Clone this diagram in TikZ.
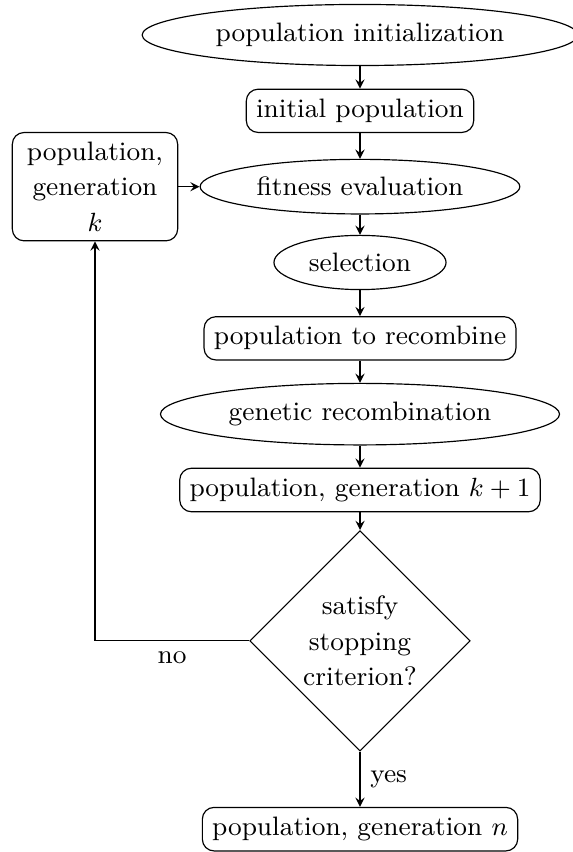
\documentclass[tikz,border=0pt]{standalone}
\usepackage{tikz}
\usetikzlibrary{shapes.geometric, arrows}
\tikzstyle{operation} = [ellipse, draw=black, text centered]
\tikzstyle{pop} = [rectangle, rounded corners, draw=black, text centered]
\tikzstyle{popmulti} = [rectangle, rounded corners, draw=black, text width=1.75cm,
align=center]
\tikzstyle{decision} = [diamond, draw=black, inner sep=1.5pt, align=center]
\tikzstyle{arrow} = [->,>=stealth]

\begin{document}
\begin{tikzpicture}[node distance=0.91cm, font=\fontsize{9.1}{12}\selectfont]

\useasboundingbox (-4.32,0.42) rectangle (2.544,-9.804);

\node(init)[operation]{population initialization};
\node(initpop)[pop, below of=init]{initial population};
\node(fit)[operation, below of=initpop]{fitness evaluation};
\node(popk)[popmulti, left of=fit, xshift=-2.27cm]{population,\\generation\\$k$};
\node(sel)[operation, below of=fit]{selection};
\node(recpop)[pop, below of=sel]{population to recombine};
\node(recomb)[operation, below of=recpop]{genetic recombination};
\node(popnext)[pop, below of=recomb]{population, generation $k+1$};
\node(test)[decision, below of=popnext, yshift=-0.9cm]{satisfy\\stopping\\criterion?};
\node(final)[pop, below of=test, yshift=-1.35cm]{population, generation $n$};

\draw[arrow](init) -- (initpop);
\draw[arrow](initpop) -- (fit);
\draw[arrow](popk) -- (fit);
\draw[arrow](fit) -- (sel);
\draw[arrow](sel) -- (recpop);
\draw[arrow](recpop) -- (recomb);
\draw[arrow](recomb) -- (popnext);
\draw[arrow](popnext) -- (test);
\draw[arrow](test) -- node[anchor=west]{yes}(final);
\draw[arrow](test) -| node[pos=0.25, below]{no} (popk);

\end{tikzpicture}
\end{document}
